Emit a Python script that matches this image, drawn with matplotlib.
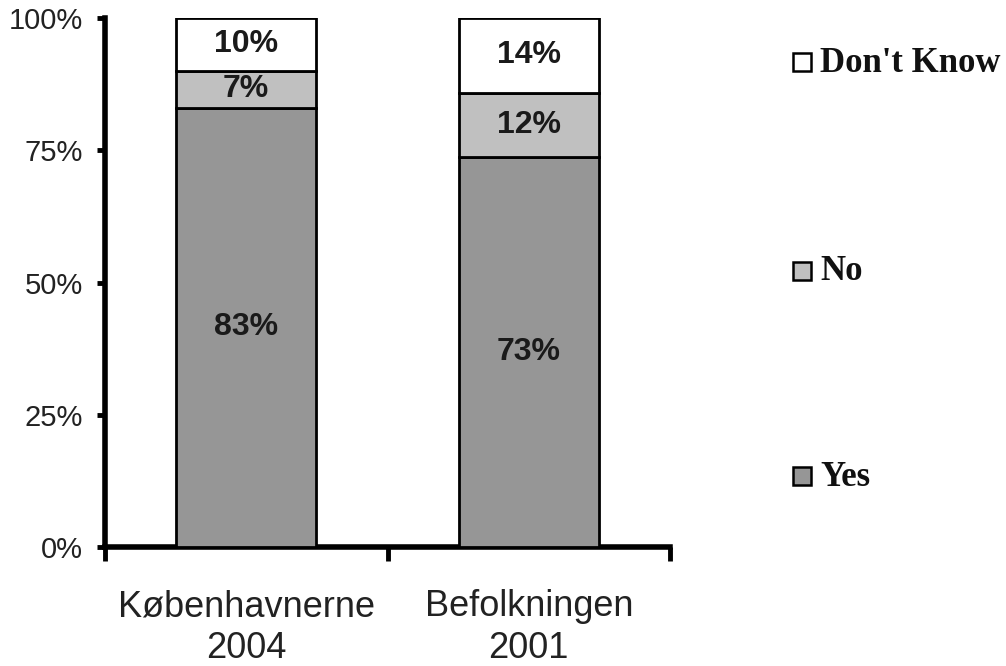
import matplotlib
matplotlib.use("Agg")
import matplotlib.pyplot as plt
from matplotlib.patches import Rectangle
import numpy as np

# Survey responses (percent) per group
categories = ["Københavnerne\n2004", "Befolkningen\n2001"]
series = ["Yes", "No", "Don't Know"]
yes = [83, 73]
no = [7, 12]
dont_know = [10, 14]
colors = ["#969696", "#c0c0c0", "#ffffff"]
yticks = [0, 25, 50, 75, 100]
ytick_labels = ["0%", "25%", "50%", "75%", "100%"]

values = np.array([yes, no, dont_know], dtype=float)
shares = values / values.sum(axis=0) * 100  # 100% stacked

fig = plt.figure(figsize=(10.06, 6.66), dpi=100)
ax = fig.add_axes([105 / 1006, 1 - 547 / 666, (670 - 105) / 1006, (547 - 18) / 666])

x = np.arange(len(categories))
bottom = np.zeros(len(categories))
for vals, sh, col in zip(values, shares, colors):
    ax.bar(x, sh, bottom=bottom, width=0.495, color=col, edgecolor="black",
           linewidth=2.0, zorder=3)
    for xi, v, b, s in zip(x, vals, bottom, sh):
        ax.text(xi, b + s / 2, f"{v:.0f}%", ha="center", va="center",
                fontsize=23, fontweight="bold", family="Liberation Sans",
                color="#1a1a1a", zorder=4)
    bottom += sh

ax.set_xlim(-0.5, 1.5)
ax.set_ylim(0, 100)
ax.set_yticks(yticks)
ax.set_yticklabels(ytick_labels, family="Liberation Sans", fontsize=21, color="#222222")
ax.set_xticks([-0.5, 0.5, 1.5])
ax.set_xticklabels([])
ax.tick_params(axis="y", direction="out", length=6, width=3.5, pad=10)
ax.tick_params(axis="x", direction="out", length=10, width=3.5)
for i, lab in enumerate(categories):
    ax.text(i, -8, lab, ha="center", va="top", fontsize=26,
            family="Liberation Sans", color="#222222", linespacing=1.25)

for side in ["top", "right"]:
    ax.spines[side].set_visible(False)
for side in ["left", "bottom"]:
    ax.spines[side].set_linewidth(4)

# legend drawn as boxes with labels, top entry first
leg_y = [476, 271, 62]
for name, col, yy in zip(series, colors, leg_y):
    fig.patches.append(Rectangle((793 / 1006, 1 - (yy + 9) / 666), 18 / 1006, 18 / 666,
                                 transform=fig.transFigure, facecolor=col,
                                 edgecolor="black", linewidth=1.8))
    fig.text(820 / 1006, 1 - (yy + 1) / 666, name, ha="left", va="center",
             fontsize=25, family="Liberation Serif", fontweight="bold", color="#111111")

fig.savefig("out.png", dpi=100)
